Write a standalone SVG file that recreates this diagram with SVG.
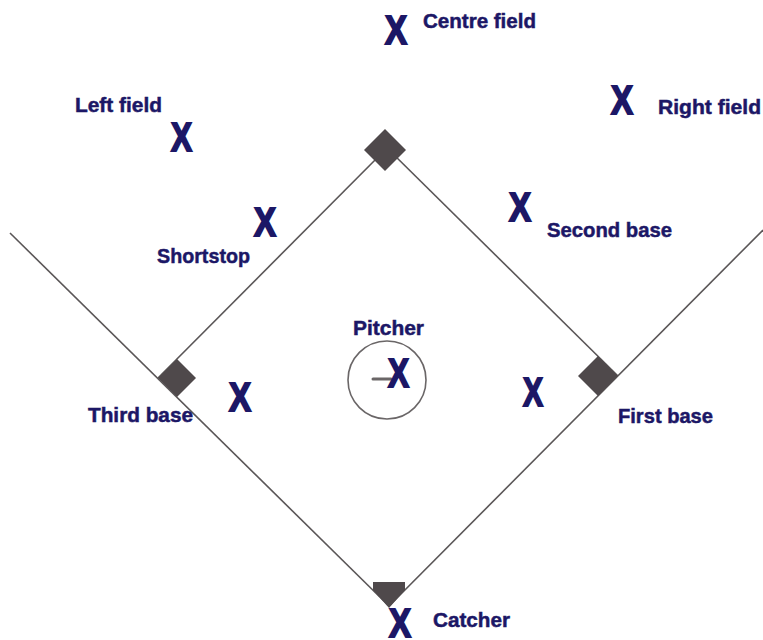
<svg xmlns="http://www.w3.org/2000/svg" width="763" height="640" viewBox="0 0 763 640">
<style>
.bg{fill:#ffffff}
.line{stroke:#5a5657;stroke-width:1.6;fill:none}
.base{fill:#4f494b}
.lbl{font-family:"Liberation Sans",Arial,sans-serif;font-weight:bold;font-size:21px;fill:#1c1766;stroke:#1c1766;stroke-width:0.5}
.x{font-family:"Liberation Sans",Arial,sans-serif;font-weight:bold;font-size:41px;fill:#1c1766;stroke:#1c1766;stroke-width:2;stroke-linejoin:miter}
</style>
<rect class="bg" x="0" y="0" width="763" height="640"/>
<g id="connectors">
<line class="line" x1="10" y1="233" x2="389" y2="606"/>
<line class="line" x1="763" y1="230" x2="389" y2="606"/>
<line class="line" x1="158" y1="378" x2="387" y2="148"/>
<line class="line" x1="618" y1="376" x2="387" y2="148"/>
</g>
<g id="second-base"><polygon class="base" points="385,129 406,150 385,171 364,150"/></g>
<g id="third-base"><polygon class="base" points="158,378 177,359 196,378 177,397"/></g>
<g id="first-base"><polygon class="base" points="618,376 598,356 578,376 598,396"/></g>
<g id="home-plate"><polygon class="base" points="373,582 405,582 405,590 389,608 373,590"/></g>
<g id="mound">
<circle cx="387" cy="380" r="39" fill="none" stroke="#6a6667" stroke-width="1.6"/>
<line x1="373" y1="379" x2="391" y2="379" stroke="#6a6667" stroke-width="3" stroke-linecap="round"/>
</g>
<g id="centre-field"><text class="x" x="385" y="44" textLength="22" lengthAdjust="spacingAndGlyphs">X</text><text class="lbl" x="423" y="28" textLength="113" lengthAdjust="spacingAndGlyphs">Centre field</text></g>
<g id="left-field"><text class="x" x="171" y="151" textLength="21" lengthAdjust="spacingAndGlyphs">X</text><text class="lbl" x="75" y="112" textLength="87" lengthAdjust="spacingAndGlyphs">Left field</text></g>
<g id="right-field"><text class="x" x="611" y="114" textLength="22" lengthAdjust="spacingAndGlyphs">X</text><text class="lbl" x="658" y="114" textLength="103" lengthAdjust="spacingAndGlyphs">Right field</text></g>
<g id="shortstop"><text class="x" x="254" y="236" textLength="22" lengthAdjust="spacingAndGlyphs">X</text><text class="lbl" x="157" y="263" textLength="93" lengthAdjust="spacingAndGlyphs">Shortstop</text></g>
<g id="second-baseman"><text class="x" x="509" y="221" textLength="22" lengthAdjust="spacingAndGlyphs">X</text><text class="lbl" x="547" y="237" textLength="125" lengthAdjust="spacingAndGlyphs">Second base</text></g>
<g id="pitcher"><text class="x" x="388" y="387" textLength="21" lengthAdjust="spacingAndGlyphs">X</text><text class="lbl" x="353" y="335" textLength="71" lengthAdjust="spacingAndGlyphs">Pitcher</text></g>
<g id="third-baseman"><text class="x" x="229" y="411" textLength="22" lengthAdjust="spacingAndGlyphs">X</text><text class="lbl" x="88" y="422" textLength="105" lengthAdjust="spacingAndGlyphs">Third base</text></g>
<g id="first-baseman"><text class="x" x="523" y="406" textLength="20" lengthAdjust="spacingAndGlyphs">X</text><text class="lbl" x="618" y="423" textLength="95" lengthAdjust="spacingAndGlyphs">First base</text></g>
<g id="catcher"><text class="x" x="389" y="637" textLength="22" lengthAdjust="spacingAndGlyphs">X</text><text class="lbl" x="433" y="627" textLength="77" lengthAdjust="spacingAndGlyphs">Catcher</text></g>
</svg>
